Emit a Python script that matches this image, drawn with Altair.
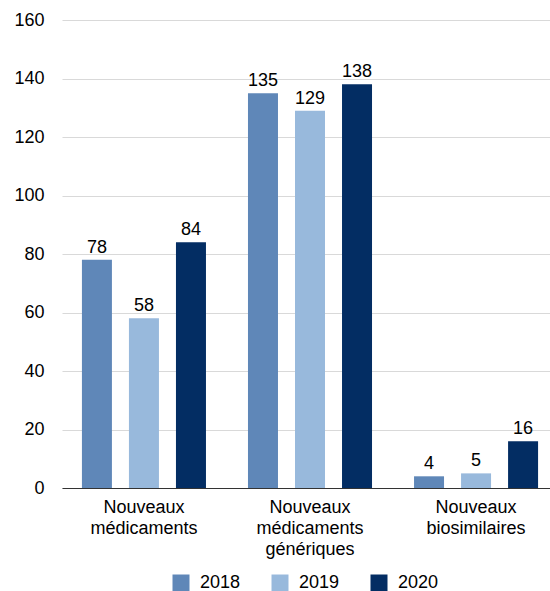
import altair as alt
import pandas as pd

# Categories (line breaks are rendered as multi-line axis labels)
categories = [
    "Nouveaux\nmédicaments",
    "Nouveaux\nmédicaments\ngénériques",
    "Nouveaux\nbiosimilaires",
]
years = ["2018", "2019", "2020"]
values_2018 = [78, 135, 4]
values_2019 = [58, 129, 5]
values_2020 = [84, 138, 16]
colors = ["#5f87b8", "#98b9dc", "#032d63"]

rows = []
for year, vals in zip(years, [values_2018, values_2019, values_2020]):
    for cat, v in zip(categories, vals):
        rows.append({"cat": cat, "year": year, "value": v})
df = pd.DataFrame(rows)

FONT = "Liberation Sans"
FS = 18

base = alt.Chart(df).encode(
    x=alt.X(
        "cat:N",
        sort=categories,
        title=None,
        scale=alt.Scale(range=[0, 496], paddingInner=0.253, paddingOuter=0.12),
        axis=alt.Axis(
            labelAngle=0,
            labelExpr="split(datum.label, '\\n')",
            labelFontSize=FS,
            labelFont=FONT,
            labelColor="#000000",
            labelLineHeight=21,
            labelPadding=10,
            ticks=False,
            domainColor="#333333",
            domainWidth=1,
            grid=False,
        ),
    ),
    xOffset=alt.XOffset(
        "year:N",
        sort=years,
        scale=alt.Scale(paddingInner=0.362, paddingOuter=0),
    ),
    y=alt.Y(
        "value:Q",
        title=None,
        scale=alt.Scale(domain=[0, 160], nice=False),
        axis=alt.Axis(
            values=list(range(0, 161, 20)),
            labelFontSize=FS,
            labelFont=FONT,
            labelColor="#000000",
            labelPadding=18,
            ticks=False,
            domain=False,
            grid=True,
            gridColor="#d9d9d9",
            gridWidth=1,
        ),
    ),
)

bars = base.mark_bar().encode(
    color=alt.Color(
        "year:N",
        sort=years,
        scale=alt.Scale(domain=years, range=colors),
        legend=alt.Legend(
            title=None,
            orient="none",
            direction="horizontal",
            legendX=110,
            legendY=554,
            symbolType="square",
            symbolSize=289,
            symbolStrokeWidth=0,
            labelFontSize=FS,
            labelFont=FONT,
            labelColor="#000000",
            labelOffset=10,
            columnPadding=30,
            padding=0,
        ),
    )
)

labels = base.mark_text(
    dy=-7, baseline="alphabetic", fontSize=FS, font=FONT, color="#000000"
).encode(text="value:Q")

chart = (
    alt.layer(bars, labels)
    .properties(
        width=488,
        height=468,
        autosize=alt.AutoSizeParams(type="none"),
        padding={"left": 62, "top": 20, "right": 0, "bottom": 103},
        background="#ffffff",
    )
    .configure_view(stroke=None)
)

chart.save("out.html", embed_options={"renderer": "svg", "actions": False})
